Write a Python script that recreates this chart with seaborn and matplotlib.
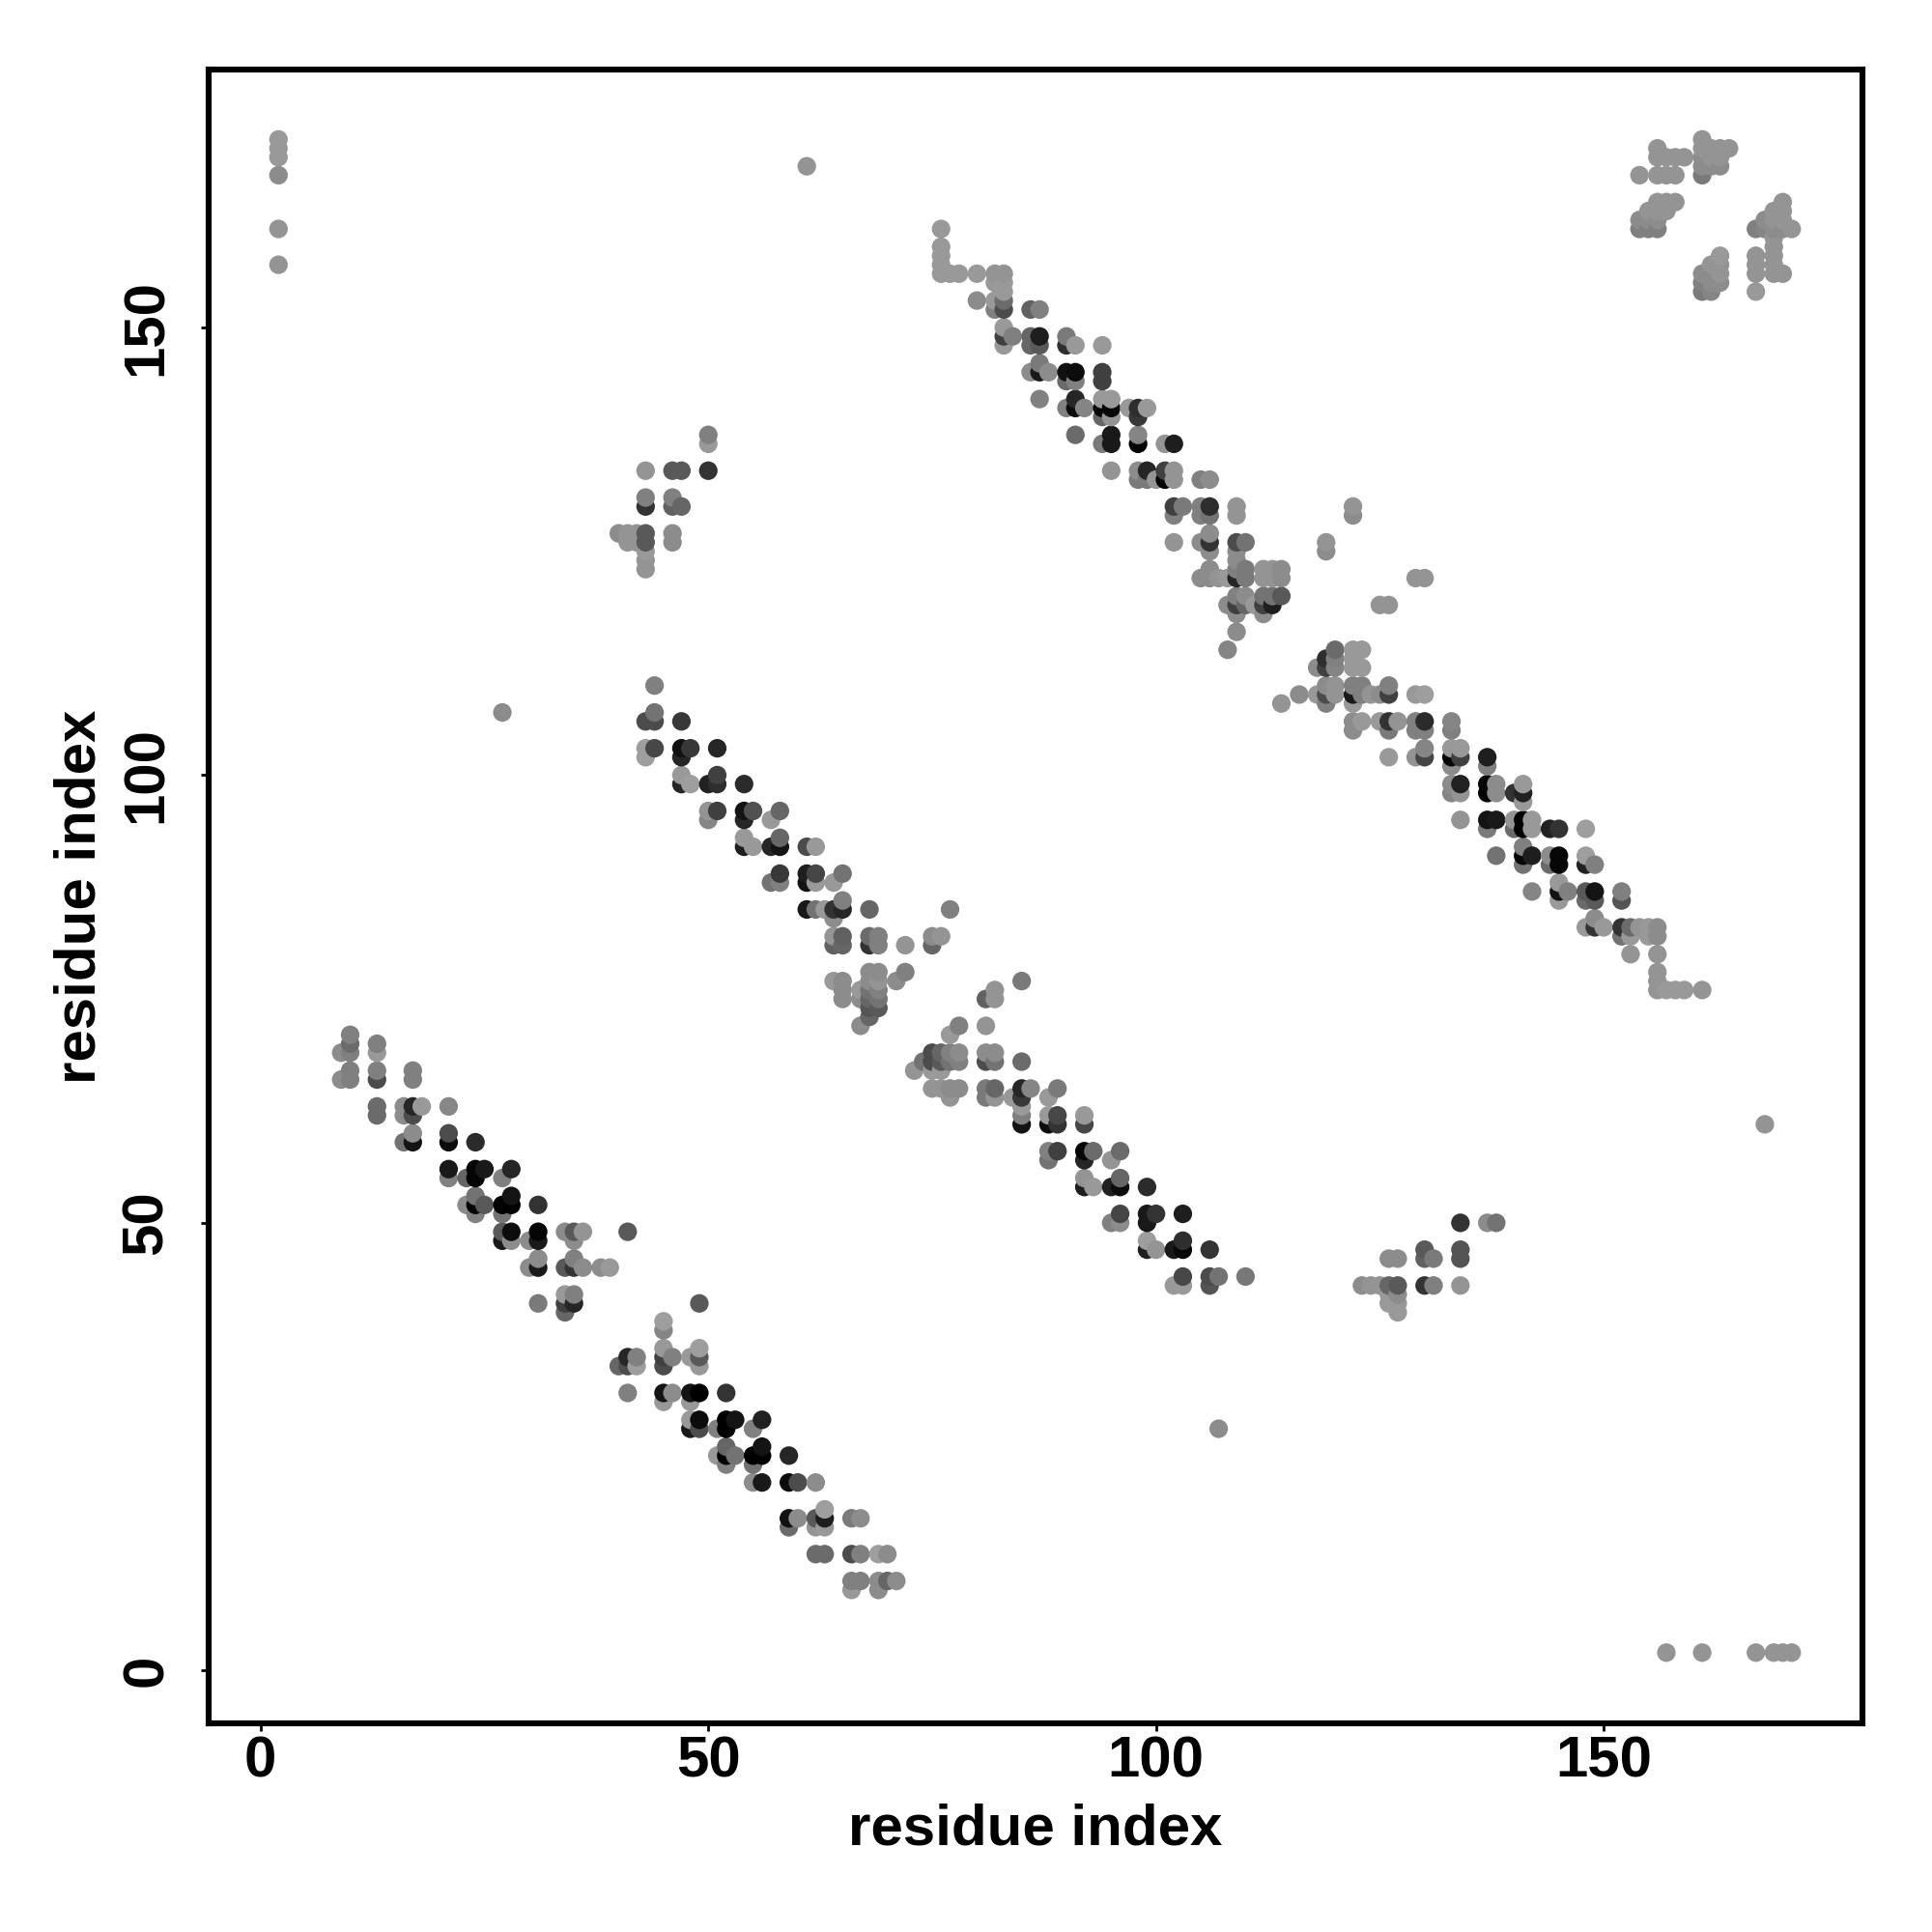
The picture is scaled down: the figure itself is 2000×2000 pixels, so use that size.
import numpy as np
import pandas as pd
import matplotlib
matplotlib.use("Agg")
import matplotlib.pyplot as plt
import seaborn as sns

# contacts per cluster: one y per row, x and grey level lists per row
band_a_y = [71, 70, 69, 67, 66, 63, 62, 60, 59, 56, 55, 53, 52, 51, 49, 48, 46, 45, 42, 41, 40]
band_a_x = [[10], [10, 13], [9, 10, 13], [10, 13, 17], [9, 10, 13, 17], [13, 16, 17, 18, 21], [13, 16, 17],
            [17, 21], [16, 17, 21, 24], [21, 24, 25, 28], [21, 23, 24, 27], [24, 28], [23, 24, 25, 27, 28, 31],
            [24, 27], [27, 28, 31, 34, 35, 36, 41], [27, 28, 30, 31, 35], [31, 35],
            [30, 31, 34, 35, 36, 38, 39], [34, 35], [31, 34, 35], [34]]
band_a_g = [[.5], [.42, .5], [.55, .5, .6], [.5, .5, .5], [.55, .5, .3, .5], [.42, .55, .15, .6, .53], [.42, .55, .3],
            [.55, .3], [.45, .08, .05, .17], [.1, .02, .1, .15], [.5, .4, .02, .5], [.45, .08],
            [.55, .02, .35, 0, 0, .2], [.5, .45], [.35, .05, .02, .55, .35, .58, .35], [.1, .55, .55, .1, .55],
            [.55, .5], [.55, .1, .35, .2, .55, .55, .6], [.6, .5], [.48, .25, .15], [.4]]

band_b_y = [41, 39, 38, 36, 35, 34, 31, 30, 28, 27, 25, 24, 23, 21, 18, 17, 16, 13, 10, 9]
band_b_x = [[49], [45], [45], [45, 49], [41, 42, 45, 46, 48, 49], [40, 41, 42, 45, 49], [41, 45, 46, 48, 49, 52],
            [45, 48], [48, 49, 52, 53, 56], [48, 49, 51, 52, 55], [52, 56], [51, 52, 53, 55, 56, 59], [52, 55],
            [55, 56, 59, 60, 62], [63], [59, 60, 62, 63, 66, 67], [59, 62, 63], [62, 63, 66, 67, 69, 70],
            [66, 67, 69, 70, 71], [66, 69]]
band_b_g = [[.35], [.62], [.52], [.6, .62], [.15, .5, .25, .5, .6, .35], [.4, .3, .62, .3, .6],
            [.5, .08, .55, .08, 0, .2], [.6, .6], [.6, .05, 0, .08, .13], [.1, .3, .5, 0, .5], [.4, .08],
            [.6, 0, .45, 0, 0, .15], [.5, .45], [.55, .1, .05, .3, .55], [.62], [.07, .55, .35, .12, .48, .55],
            [.42, .58, .6], [.42, .42, .3, .5, .62, .55], [.5, .5, .55, .4, .55], [.6, .55]]

band_c_y = [110, 107, 106, 103, 102, 100, 99, 96, 95, 93, 92, 89, 88, 86, 85, 84, 82, 81, 78, 77, 76, 75, 74, 73, 72]
band_c_x = [[44], [44], [43, 44, 47], [43, 44, 47, 48, 51], [43, 47], [47, 51], [47, 48, 50, 51, 54],
            [50, 51, 54, 55, 58], [50, 54, 57], [54, 58], [54, 55, 57, 58, 61, 62], [58, 61, 62, 65],
            [57, 58, 61, 62, 64], [65], [61, 62, 63, 64, 65, 68], [64], [64, 65, 68, 69, 75, 76],
            [64, 65, 68, 69, 72, 75], [68, 69, 72], [64, 65, 68, 69, 71], [65, 67, 68, 69], [65, 67, 68, 69],
            [68, 69], [68], [67]]
band_c_g = [[.5], [.45], [.3, .3, .22], [.62, .28, .07, .22, .15], [.62, .15], [.6, .25], [.15, .62, .13, .18, .17],
            [.58, .25, .08, .32, .4], [.52, .15, .6], [.6, .4], [.12, .6, .15, .08, .3, .6], [.22, .12, .27, .45],
            [.45, .5, .08, .6, .6], [.5], [.1, .45, .6, .2, .15, .4], [.55], [.58, .38, .42, .5, .55, .58],
            [.38, .4, .2, .5, .58, .4], [.55, .55, .5], [.6, .55, .55, .58, .55], [.55, .6, .45, .5],
            [.55, .55, .4, .45], [.33, .35], [.4], [.55]]

band_d_y = [85, 77, 76, 75, 72, 71, 69, 68, 67, 65, 64, 63, 62, 61, 58, 57, 55, 54, 51, 50, 48, 47, 44, 43]
band_d_x = [[77], [85], [82], [81, 82], [78, 81], [77], [75, 76, 77, 78, 81, 82], [74, 75, 76, 77, 78, 81, 82, 85],
            [73, 75, 76], [75, 76, 77, 78, 81, 82, 85, 86, 89], [77, 81, 82, 84, 85, 88], [85], [85, 88, 89, 92],
            [85, 88, 89, 92], [88, 89, 92, 93, 96], [88, 92, 95], [92, 96], [92, 93, 95, 96, 99], [96, 99, 100, 103],
            [95, 96, 99], [99, 103], [99, 100, 102, 103, 106], [103, 106, 107, 110], [102, 103, 106]]
band_d_g = [[.5], [.48], [.58], [.38, .58], [.5, .58], [.6], [.3, .4, .5, .55, .55, .55],
            [.45, .3, .35, .45, .5, .3, .45, .42], [.58, .6, .6], [.58, .58, .55, .55, .48, .4, .15, .52, .48],
            [.58, .48, .58, .6, .22, .6], [.6], [.5, .6, .28, .6], [.08, .05, .2, .28], [.5, .25, .03, .42, .42],
            [.45, .15, .58], [.58, .4], [.12, .6, .13, .05, .17], [.27, .1, .2, .12], [.5, .55, .1], [.62, .18],
            [.12, .58, .1, .03, .2], [.28, .3, .45, .47], [.6, .6, .33]]

band_e_x = [76, 77, 78, 80, 82, 83, 84, 86, 87, 88, 90, 91, 92, 94, 95, 97, 98, 99, 100, 101, 102, 103,
            105, 106, 107, 108, 109, 110, 111, 112, 113, 114]
band_e_y = [[161, 159, 158, 157, 156], [156], [156], [156, 153], [156, 155, 153, 152], [156, 155, 154, 153, 152, 150, 149, 148],
            [149], [152, 149, 148, 145], [152, 149, 148, 146, 145, 142], [145], [149, 148, 145, 144, 141],
            [148, 145, 144, 142, 141, 138], [141], [148, 145, 144, 142, 141, 140, 137],
            [142, 141, 140, 138, 137, 134], [141], [141, 140, 138, 137, 134, 133], [141, 134, 133], [133],
            [137, 134, 133], [137, 134, 133, 130, 129, 126], [130], [133, 130, 129, 126, 122],
            [133, 130, 129, 127, 126, 125, 123, 122], [122], [122, 119, 114],
            [130, 129, 126, 125, 124, 123, 122, 120, 119, 118, 116], [126, 123, 122, 120, 119], [119],
            [123, 122, 120, 119, 118], [123, 122, 120, 119], [123, 122, 120]]
band_e_g = [[.6, .6, .6, .6, .6], [.6], [.6], [.6, .55], [.58, .6, .6, .5], [.58, .6, .6, .42, .3, .6, .25, .6],
            [.5], [.38, .4, .4, .55], [.5, .12, .35, .48, .1, .5], [.55], [.48, .18, .07, .42, .5],
            [.6, .05, .5, .15, .05, .42], [.52], [.6, .25, .25, .6, .03, .4, .48],
            [.6, .02, .58, .1, .1, .58], [.6], [.18, .22, .52, .02, .55, .48], [.6, .15, .48], [.58],
            [.58, .25, .02], [.12, .58, .58, .25, .5, .58], [.48], [.5, .5, .5, .55, .55],
            [.55, .18, .45, .55, .2, .55, .55, .55], [.58], [.6, .55, .52],
            [.58, .58, .3, .55, .55, .5, .15, .5, .25, .55, .55], [.45, .48, .48, .55, .4], [.6],
            [.58, .58, .45, .25, .55], [.58, .58, .45, .12], [.55, .55, .35]]

band_f_y = [119, 114, 113, 112, 110, 109, 108, 106, 105, 103, 102, 101, 99, 98, 97, 95, 94, 92, 91, 90, 88, 87, 86,
            84, 83, 82, 80, 78, 77, 76]
band_f_x = [[125, 126], [120, 122, 123], [119, 120, 122], [118, 119, 120, 122, 123], [119, 120, 122, 123, 126],
            [116, 118, 119, 120, 122, 123, 124, 125, 126, 129, 130], [114, 119, 122],
            [122, 123, 125, 126, 127, 129, 130, 133], [122, 126, 129, 130, 133], [130, 133, 134],
            [126, 129, 130, 133, 134, 137], [133, 137], [133, 134, 137, 138, 141], [133, 134, 137, 138, 140, 141],
            [141], [134, 137, 138, 140, 141, 142], [137, 140, 141, 142, 144, 145, 148], [141],
            [138, 141, 142, 144, 145, 148], [141, 144, 145, 148, 149], [145], [142, 145, 146, 148, 149, 152],
            [145, 148, 149, 152], [149], [148, 149, 150, 152, 153, 154, 155, 156], [152, 153, 155, 156], [153, 156],
            [156], [156], [156, 157, 158, 159, 161]]
band_f_g = [[.58, .58], [.42, .6, .6], [.18, .5, .6], [.55, .25, .52, .6, .6], [.55, .58, .5, .5, .5],
            [.55, .6, .3, .58, .1, .5, .58, .55, .25, .6, .62], [.58, .5, .6],
            [.55, .6, .6, .2, .58, .5, .17, .52], [.55, .48, .5, .5, .5], [.52, .6, .6],
            [.6, .58, .27, .03, .25, .12], [.55, .5], [.55, .13, .03, .55, .6], [.52, .58, .02, .55, .2, .13],
            [.6], [.58, .08, .1, .58, .02, .6], [.48, .42, .02, .6, .13, .2, .62], [.5],
            [.45, .03, .12, .55, .03, .62], [.45, .42, .03, .13, .5], [.6], [.52, .07, .5, .35, .08, .5],
            [.6, .42, .35, .33], [.55], [.6, .2, .6, .2, .42, .58, .6, .55], [.45, .6, .6, .55], [.58, .58],
            [.58], [.58], [.58, .6, .6, .6, .58]]

patch_g_x = [40, 41, 42, 43, 46, 47, 50]
patch_g_y = [[127], [127, 126], [127, 126], [134, 131, 130, 127, 126, 125, 124, 123], [134, 131, 130, 127, 126],
             [134, 130], [138, 137, 134]]
patch_g_g = [[.55], [.58, .58], [.58, .58], [.58, .5, .2, .35, .35, .6, .58, .58], [.35, .5, .38, .55, .55],
             [.35, .4], [.5, .6, .2]]

patch_h_y = [50, 47, 46, 43, 42, 41, 40]
patch_h_x = [[134, 137, 138], [130, 134], [126, 127, 130, 131, 134], [123, 124, 125, 126, 127, 130, 131, 134],
             [126, 127], [126, 127], [127]]
patch_h_g = [[.2, .55, .45], [.35, .33], [.55, .55, .38, .48, .33], [.55, .58, .58, .4, .35, .2, .5, .58],
             [.6, .55], [.6, .6], [.6]]

corner_x = [154, 155, 156, 157, 158, 159, 161, 162, 163, 164, 167, 168, 169, 170, 171]
corner_y = [[167, 162, 161], [163, 162, 161], [170, 169, 167, 164, 163, 162, 161], [169, 167, 164, 163],
            [169, 167, 164], [169], [171, 170, 169, 168, 167, 156, 155, 154], [170, 169, 168, 157, 156, 155, 154],
            [170, 169, 168, 158, 157, 156, 155], [170], [161, 158, 157, 156, 154], [162, 161],
            [163, 162, 161, 160, 159, 158, 157, 156], [164, 163, 162, 161, 156], [161]]
corner_g = [[.58, .55, .5], [.58, .55, .5], [.58, .58, .58, .58, .58, .55, .5], [.58, .58, .58, .58],
            [.58, .58, .58], [.58], [.58, .58, .55, .55, .48, .55, .5, .48], [.58, .58, .55, .58, .55, .55, .52],
            [.58, .58, .55, .6, .58, .58, .55], [.58], [.5, .58, .58, .58, .6], [.55, .52],
            [.58, .58, .55, .58, .58, .58, .58, .58], [.58, .58, .58, .55, .58], [.58]]

strays_x = [2, 2, 2, 2, 2, 2, 61, 27, 107, 168, 157, 161, 167, 169, 170, 171, 119, 119, 122, 122, 129, 130]
strays_y = [171, 170, 169, 167, 161, 157, 168, 107, 27, 61, 2, 2, 2, 2, 2, 2, 126, 125, 130, 129, 122, 122]
strays_g = [.6, .6, .6, .55, .58, .58, .58, .55, .55, .58, .58, .58, .58, .58, .58, .58, .58, .55, .58, .55, .58, .58]


def by_row(ys, xs, gs):
    return pd.DataFrame({"x": xs, "y": ys, "grey": gs}).explode(["x", "grey"])


def by_col(xs, ys, gs):
    return pd.DataFrame({"x": xs, "y": ys, "grey": gs}).explode(["y", "grey"])


contacts = pd.concat([
    by_row(band_a_y, band_a_x, band_a_g),
    by_row(band_b_y, band_b_x, band_b_g),
    by_row(band_c_y, band_c_x, band_c_g),
    by_row(band_d_y, band_d_x, band_d_g),
    by_col(band_e_x, band_e_y, band_e_g),
    by_row(band_f_y, band_f_x, band_f_g),
    by_col(patch_g_x, patch_g_y, patch_g_g),
    by_row(patch_h_y, patch_h_x, patch_h_g),
    by_col(corner_x, corner_y, corner_g),
    pd.DataFrame({"x": strays_x, "y": strays_y, "grey": strays_g}),
]).astype(float)
# later residues were drawn on top
contacts = contacts.drop_duplicates(["x", "y"]).sort_values(["x", "y"])

sns.set_theme(style="white")
plt.rcParams["font.family"] = ["Liberation Sans", "DejaVu Sans"]

fig = plt.figure(figsize=(10, 10), dpi=200)
ax = fig.add_axes([0.108, 0.108, 0.856, 0.856])
sns.scatterplot(data=contacts, x="x", y="y", hue="grey", palette="gray", hue_norm=(0, 1),
                s=48, linewidth=0, legend=False, ax=ax)

ax.set_xlim(-5.8, 178.9)
ax.set_ylim(-5.9, 178.8)
ax.set_xticks([0, 50, 100, 150])
ax.set_yticks([0, 50, 100, 150])
ax.tick_params(axis="both", bottom=True, left=True, length=3, width=1, color="black",
               labelsize=21.6, labelcolor="black")
ax.tick_params(axis="x", pad=1.5)
ax.tick_params(axis="y", pad=10)
plt.setp(ax.get_xticklabels(), fontweight="bold")
plt.setp(ax.get_yticklabels(), fontweight="bold", rotation=90, va="center")
for s in ax.spines.values():
    s.set_linewidth(2.2)
    s.set_color("black")
ax.set_xlabel("residue index", fontsize=21.6, fontweight="bold", color="black")
ax.set_ylabel("residue index", fontsize=21.6, fontweight="bold", color="black")
ax.xaxis.set_label_coords(0.5, -0.048)
ax.yaxis.set_label_coords(-0.0614, 0.5)

fig.savefig("out.png", dpi=200, facecolor="white")
plt.close(fig)
